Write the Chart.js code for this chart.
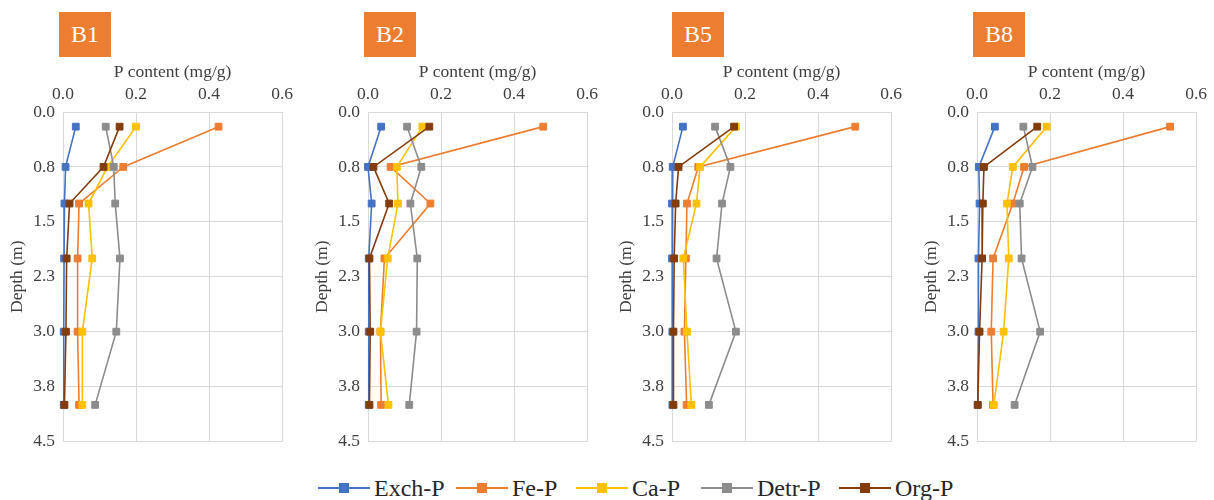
<!DOCTYPE html>
<html>
<head>
<meta charset="utf-8">
<script src="https://cdn.jsdelivr.net/npm/chart.js@4.4.1/dist/chart.umd.min.js"></script>
<style>
  html, body { margin: 0; padding: 0; background: #ffffff; }
  #wrap { position: relative; width: 1214px; height: 500px; overflow: hidden; background: #ffffff; font-family: "Liberation Serif", "DejaVu Serif", serif; }
  .panel { position: absolute; top: 50px; }
  .tag { position: absolute; top: 12px; width: 52px; height: 45px; background: #ED7D31; color: #ffffff;
         font-size: 24px; line-height: 45px; text-align: center; }
  #legend { position: absolute; left: 0; top: 474px; width: 1214px; height: 28px; font-size: 24px; color: #262626; }
  .item { position: absolute; top: 0; height: 28px; display: flex; align-items: center; white-space: nowrap; }
  .swatch { position: relative; width: 52px; height: 20px; margin-right: 4px; }
  .swatch .ln { position: absolute; left: 0; right: 0; top: 9px; height: 2px; }
  .swatch .mk { position: absolute; left: 21px; top: 5px; width: 10px; height: 10px; }
</style>
</head>
<body>
<div id="wrap">
  <div id="legend"></div>
</div>
<script>
// Sampling depths (m) shared by every core
const depthM = [0.2, 0.75, 1.25, 2.0, 3.0, 4.0];

// Phosphorus fractions and their colours
const seriesNames = ['Exch-P', 'Fe-P', 'Ca-P', 'Detr-P', 'Org-P'];
const seriesColors = ['#4472C4', '#ED7D31', '#FFC000', '#8C8C8C', '#843C0C'];

// Core labels
const siteLabels = ['B1', 'B2', 'B5', 'B8'];

// Axis ticks
const contentTicks = [0.0, 0.2, 0.4, 0.6];
const depthTicks = [0.0, 0.75, 1.5, 2.25, 3.0, 3.75, 4.5];

// P content (mg/g) per fraction, core B1
const b1ExchP = [0.035, 0.007, 0.004, 0.003, 0.002, 0.002];
const b1FeP   = [0.426, 0.165, 0.044, 0.040, 0.040, 0.044];
const b1CaP   = [0.200, 0.122, 0.070, 0.080, 0.053, 0.053];
const b1DetrP = [0.117, 0.139, 0.143, 0.156, 0.146, 0.088];
const b1OrgP  = [0.155, 0.111, 0.018, 0.010, 0.008, 0.004];

// core B2
const b2ExchP = [0.036, 0.000, 0.010, 0.002, 0.002, 0.002];
const b2FeP   = [0.480, 0.062, 0.171, 0.045, 0.034, 0.036];
const b2CaP   = [0.149, 0.079, 0.082, 0.054, 0.034, 0.056];
const b2DetrP = [0.107, 0.146, 0.116, 0.135, 0.133, 0.113];
const b2OrgP  = [0.168, 0.015, 0.058, 0.004, 0.006, 0.004];

// core B5
const b5ExchP = [0.030, 0.002, 0.000, 0.000, 0.001, 0.001];
const b5FeP   = [0.502, 0.072, 0.041, 0.038, 0.034, 0.040];
const b5CaP   = [0.175, 0.077, 0.067, 0.031, 0.041, 0.053];
const b5DetrP = [0.118, 0.160, 0.137, 0.122, 0.175, 0.101];
const b5OrgP  = [0.170, 0.018, 0.010, 0.006, 0.004, 0.004];

// core B8
const b8ExchP = [0.049, 0.005, 0.007, 0.004, 0.004, 0.002];
const b8FeP   = [0.529, 0.129, 0.098, 0.044, 0.039, 0.044];
const b8CaP   = [0.191, 0.098, 0.082, 0.087, 0.073, 0.046];
const b8DetrP = [0.127, 0.152, 0.117, 0.122, 0.173, 0.103];
const b8OrgP  = [0.165, 0.019, 0.016, 0.014, 0.007, 0.002];

const siteSeries = [
  [b1ExchP, b1FeP, b1CaP, b1DetrP, b1OrgP],
  [b2ExchP, b2FeP, b2CaP, b2DetrP, b2OrgP],
  [b5ExchP, b5FeP, b5CaP, b5DetrP, b5OrgP],
  [b8ExchP, b8FeP, b8CaP, b8DetrP, b8OrgP]
];

const FONT = '"Liberation Serif", "DejaVu Serif", serif';
const TEXT = '#404040';
const GRID = '#D9D9D9';
const panelLeft = [0, 305, 609, 914];
const tagLeft = [59, 364, 672, 973];
const legendLeft = [318, 456, 576, 701, 839];

const wrap = document.getElementById('wrap');

siteLabels.forEach((site, p) => {
  const tag = document.createElement('div');
  tag.className = 'tag';
  tag.style.left = tagLeft[p] + 'px';
  tag.textContent = site;
  wrap.appendChild(tag);

  const holder = document.createElement('div');
  holder.className = 'panel';
  holder.style.left = panelLeft[p] + 'px';
  const cv = document.createElement('canvas');
  cv.width = 300; cv.height = 410;
  cv.style.width = '300px'; cv.style.height = '410px';
  holder.appendChild(cv);
  wrap.appendChild(holder);

  const datasets = seriesNames.map((name, s) => ({
    label: name,
    data: depthM.map((d, i) => ({ x: siteSeries[p][s][i], y: d })),
    showLine: true,
    borderColor: seriesColors[s],
    backgroundColor: seriesColors[s],
    pointBackgroundColor: seriesColors[s],
    pointBorderColor: seriesColors[s],
    borderWidth: 1.6,
    pointStyle: 'rect',
    pointRadius: 4.8,
    pointBorderWidth: 1,
    tension: 0,
    clip: false,
    order: seriesNames.length - s
  }));

  new Chart(cv, {
    type: 'scatter',
    data: { datasets },
    options: {
      responsive: false,
      animation: false,
      events: [],
      devicePixelRatio: 1,
      layout: { padding: { top: 0, right: 16, bottom: 13, left: 0 } },
      plugins: { legend: { display: false }, tooltip: { enabled: false } },
      scales: {
        x: {
          type: 'linear',
          position: 'top',
          min: contentTicks[0],
          max: contentTicks[contentTicks.length - 1],
          afterBuildTicks: (sc) => { sc.ticks = contentTicks.map(v => ({ value: v })); },
          afterFit: (sc) => { sc.height = 62; },
          ticks: { padding: 7, color: TEXT, font: { family: FONT, size: 17.5 }, callback: (v) => Number(v).toFixed(1) },
          grid: { color: GRID, lineWidth: 1, drawTicks: false },
          border: { display: true, color: GRID, width: 1 },
          title: { display: true, text: 'P content (mg/g)', color: TEXT, font: { family: FONT, size: 17.5 }, padding: { top: 12, bottom: 0 } }
        },
        y: {
          type: 'linear',
          position: 'left',
          reverse: true,
          min: depthTicks[0],
          max: depthTicks[depthTicks.length - 1],
          afterBuildTicks: (sc) => { sc.ticks = depthTicks.map(v => ({ value: v })); },
          afterFit: (sc) => { sc.width = 63; },
          ticks: { padding: 8, color: TEXT, font: { family: FONT, size: 17.5 }, callback: (v) => Number(v).toFixed(1) },
          grid: { color: GRID, lineWidth: 1, drawTicks: false },
          border: { display: true, color: GRID, width: 1 },
          title: { display: true, text: 'Depth (m)', color: TEXT, font: { family: FONT, size: 17.5 }, padding: { top: 7, bottom: 0 } }
        }
      }
    }
  });
});

// Legend row below the panels
const legend = document.getElementById('legend');
seriesNames.forEach((name, s) => {
  const item = document.createElement('div');
  item.className = 'item';
  item.style.left = legendLeft[s] + 'px';
  const sw = document.createElement('div');
  sw.className = 'swatch';
  const ln = document.createElement('div');
  ln.className = 'ln';
  ln.style.background = seriesColors[s];
  const mk = document.createElement('div');
  mk.className = 'mk';
  mk.style.background = seriesColors[s];
  sw.appendChild(ln); sw.appendChild(mk);
  const tx = document.createElement('span');
  tx.textContent = name;
  item.appendChild(sw); item.appendChild(tx);
  legend.appendChild(item);
});
</script>
</body>
</html>
